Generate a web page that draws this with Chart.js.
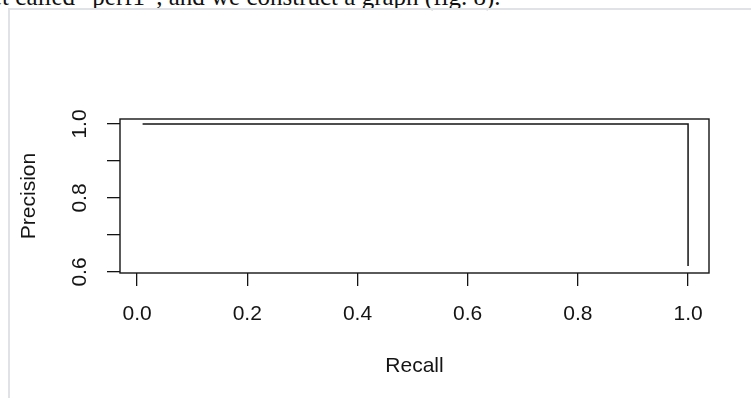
<!DOCTYPE html>
<html>
<head>
<meta charset="utf-8">
<script src="https://cdn.jsdelivr.net/npm/chart.js@4"></script>
<style>
  html, body { margin: 0; padding: 0; background: #fff; overflow: hidden; }
  #wrap { position: relative; width: 751px; height: 398px; }
  #caption { position: absolute; left: -9px; top: -16px; font-family: "Liberation Serif", serif; font-size: 25px; line-height: 25px; white-space: nowrap; color: #111; }
  #frame { position: absolute; left: 8px; top: 8px; width: 800px; height: 500px; border-left: 2px solid #e0e3e6; border-top: 2px solid #e0e3e6; }
  canvas { position: absolute; left: 0; top: 0; }
</style>
</head>
<body>
<div id="wrap">
  <div id="caption">et called “perf1”, and we construct a graph (fig. 8).</div>
  <div id="frame"></div>
  <canvas id="prChart" width="751" height="398"></canvas>
</div>
<script>
// Data
var recall    = [0.01, 1.0, 1.0];
var precision = [1.0, 1.0, 0.616];
var xTicks    = [0, 0.2, 0.4, 0.6, 0.8, 1.0];
var yTicks    = [0.6, 0.7, 0.8, 0.9, 1.0];
var yLabels   = ['0.6', '', '0.8', '', '1.0'];

var axisFont = { family: 'Liberation Sans', size: 21 };
var ink = '#141414';

// Box around the plot (R style)
var boxPlugin = {
    id: 'box',
    afterDraw: function(chart) {
        var ctx = chart.ctx, a = chart.chartArea;
        ctx.save();
        ctx.strokeStyle = ink;
        ctx.lineWidth = 1.4;
        ctx.strokeRect(a.left, a.top, a.right - a.left, a.bottom - a.top);
        ctx.restore();
    }
};

// Chart
const ctx = document.getElementById('prChart').getContext('2d');
const prChart = new Chart(ctx, {
    type: 'scatter',
    data: {
        datasets: [{
            data: recall.map(function(r, i) { return { x: r, y: precision[i] }; }),
            showLine: true,
            borderColor: ink,
            borderWidth: 1.5,
            pointRadius: 0,
            fill: false,
            tension: 0
        }]
    },
    options: {
        responsive: false,
        animation: false,
        layout: { padding: { top: 119, right: 42, left: 0, bottom: 0 } },
        plugins: { legend: { display: false }, tooltip: { enabled: false } },
        scales: {
            x: {
                type: 'linear', min: -0.031, max: 1.038,
                afterBuildTicks: function(s) { s.ticks = xTicks.map(function(v) { return { value: v }; }); },
                afterFit: function(s) { s.height = 125; },
                grid: { drawOnChartArea: false, drawTicks: true, tickLength: 13, color: ink, lineWidth: 1.3 },
                border: { display: false },
                ticks: { font: axisFont, color: ink, padding: 16, maxRotation: 0, autoSkip: false,
                         callback: function(v) { return v.toFixed(1); } },
                title: { display: true, text: 'Recall', font: axisFont, color: ink, padding: { top: 0, bottom: 19 } }
            },
            y: {
                type: 'linear', min: 0.5973, max: 1.0135,
                afterBuildTicks: function(s) { s.ticks = yTicks.map(function(v) { return { value: v }; }); },
                afterFit: function(s) { s.width = 120; },
                grid: { drawOnChartArea: false, drawTicks: true, tickLength: 13, color: ink, lineWidth: 1.3 },
                border: { display: false },
                ticks: { font: axisFont, color: ink, padding: 12, minRotation: 90, maxRotation: 90,
                         crossAlign: 'center', autoSkip: false,
                         callback: function(v, i) { return yLabels[i]; } },
                title: { display: true, text: 'Precision', font: axisFont, color: ink, padding: { top: 17, bottom: 0 } }
            }
        }
    },
    plugins: [boxPlugin]
});
</script>
</body>
</html>
